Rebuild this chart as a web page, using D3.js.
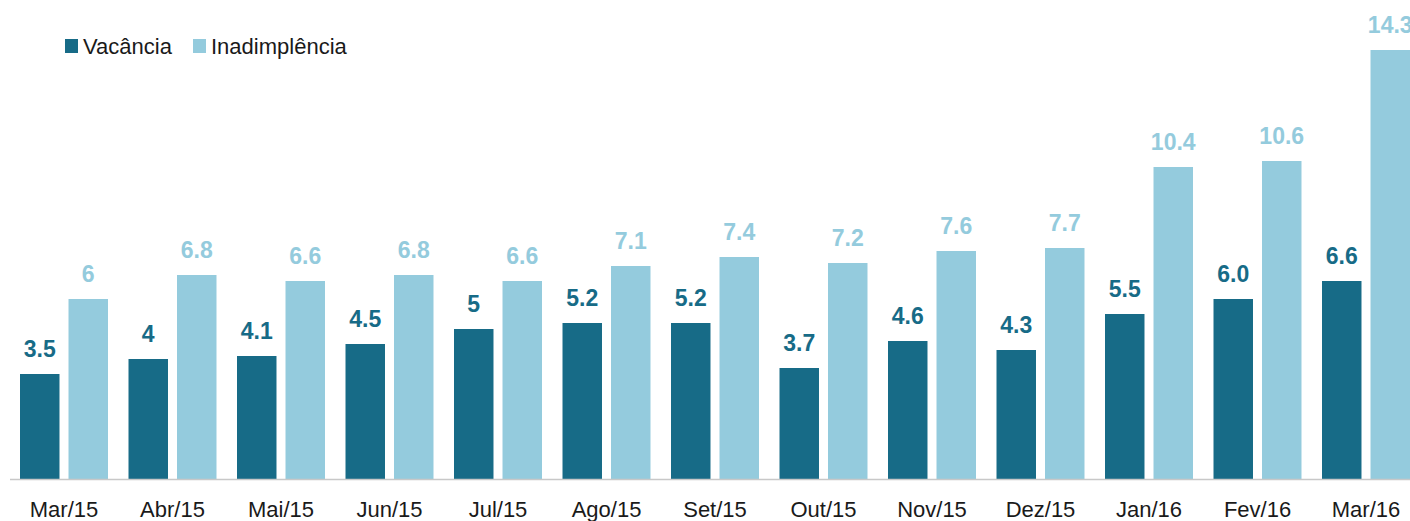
<!DOCTYPE html>
<html>
<head>
<meta charset="utf-8">
<script src="https://cdn.jsdelivr.net/npm/d3@7"></script>
<style>
  body { margin: 0; background: #fff; }
  text { font-family: "Liberation Sans", Arial, sans-serif; }
</style>
</head>
<body>
<script>
const w = 1410
const h = 521
const months = ['Mar/15', 'Abr/15', 'Mai/15', 'Jun/15', 'Jul/15', 'Ago/15', 'Set/15', 'Out/15', 'Nov/15', 'Dez/15', 'Jan/16', 'Fev/16', 'Mar/16']
const vacancia = [3.5, 4, 4.1, 4.5, 5, 5.2, 5.2, 3.7, 4.6, 4.3, 5.5, 6.0, 6.6]
const vacanciaLabels = ['3.5', '4', '4.1', '4.5', '5', '5.2', '5.2', '3.7', '4.6', '4.3', '5.5', '6.0', '6.6']
const inadimplencia = [6, 6.8, 6.6, 6.8, 6.6, 7.1, 7.4, 7.2, 7.6, 7.7, 10.4, 10.6, 14.3]
const inadLabels = ['6', '6.8', '6.6', '6.8', '6.6', '7.1', '7.4', '7.2', '7.6', '7.7', '10.4', '10.6', '14.3']
const seriesNames = ['Vacância', 'Inadimplência']
const colors = ['#176b87', '#94cbdd']

const rows = months.map((m, i) => ({
  month: m,
  vals: [
    { key: 0, v: vacancia[i], label: vacanciaLabels[i] },
    { key: 1, v: inadimplencia[i], label: inadLabels[i] }
  ]
}))

const svg = d3.select('body').append('svg').attr('width', w).attr('height', h)

const pIn = 0.189
const x0 = d3.scaleBand().domain(months).range([9.75, 1420.25]).paddingInner(pIn).paddingOuter(pIn / 2)
const x1 = d3.scaleBand().domain([0, 1]).range([0, x0.bandwidth()]).paddingInner(0.186)
const y = d3.scaleLinear().domain([0, 15]).range([479, 29])

const groups = svg.selectAll('g.grp').data(rows).enter().append('g')
  .attr('class', 'grp')
  .attr('transform', d => 'translate(' + x0(d.month) + ',0)')

groups.selectAll('rect').data(d => d.vals).enter().append('rect')
  .attr('x', d => x1(d.key))
  .attr('y', d => y(d.v))
  .attr('width', x1.bandwidth())
  .attr('height', d => y(0) - y(d.v))
  .attr('fill', d => colors[d.key])

groups.selectAll('text.val').data(d => d.vals).enter().append('text')
  .attr('class', 'val')
  .attr('x', d => x1(d.key) + x1.bandwidth() / 2)
  .attr('y', d => y(d.v) - 17)
  .attr('text-anchor', 'middle')
  .attr('font-size', 23)
  .attr('font-weight', 'bold')
  .attr('fill', d => colors[d.key])
  .text(d => d.label)

// baseline
svg.append('line')
  .attr('x1', 10).attr('x2', w)
  .attr('y1', y(0) + 0.5).attr('y2', y(0) + 0.5)
  .attr('stroke', '#c8c8c8').attr('stroke-width', 1.5)

const xAxis = d3.axisBottom(x0).tickSize(0).tickPadding(0)
const ax = svg.append('g').attr('transform', 'translate(0,' + y(0) + ')').call(xAxis)
ax.select('.domain').remove()
ax.selectAll('text')
  .attr('y', 38)
  .attr('dy', null)
  .attr('font-size', 22)
  .attr('font-family', '"Liberation Sans", Arial, sans-serif')
  .attr('fill', '#1a1a1a')

// legend
const legendX = [65, 193]
const legend = svg.selectAll('g.leg').data(seriesNames).enter().append('g')
  .attr('class', 'leg')
  .attr('transform', (d, i) => 'translate(' + legendX[i] + ',39)')
legend.append('rect').attr('width', 13).attr('height', 14).attr('fill', (d, i) => colors[i])
legend.append('text')
  .attr('x', 18).attr('y', 14.5)
  .attr('font-size', 22)
  .attr('fill', '#1a1a1a')
  .text(d => d)
</script>
</body>
</html>
